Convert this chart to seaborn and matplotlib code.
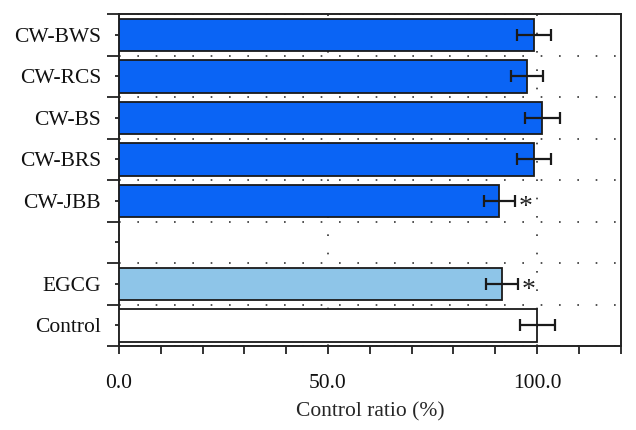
import numpy as np
import pandas as pd
import matplotlib
matplotlib.use("Agg")
import matplotlib.pyplot as plt
from matplotlib.ticker import MultipleLocator, FixedLocator
import seaborn as sns

# Data
groups = ["CW-BWS", "CW-RCS", "CW-BS", "CW-BRS", "CW-JBB", "EGCG", "Control"]
ratio = [99.3, 97.6, 101.2, 99.3, 90.9, 91.6, 100.0]
err = [4.0, 3.9, 4.2, 4.0, 3.7, 3.8, 4.2]
signif = [False, False, False, False, True, True, False]
order = ["CW-BWS", "CW-RCS", "CW-BS", "CW-BRS", "CW-JBB", " ", "EGCG", "Control"]
colors = {"CW-BWS": "#0A64F5", "CW-RCS": "#0A64F5", "CW-BS": "#0A64F5",
          "CW-BRS": "#0A64F5", "CW-JBB": "#0A64F5", "EGCG": "#8EC5E8",
          "Control": "#FFFFFF"}

df = pd.DataFrame({"group": groups, "ratio": ratio, "err": err})

sns.set_style("ticks")
plt.rcParams["font.family"] = ["Liberation Serif", "DejaVu Serif"]
plt.rcParams["font.size"] = 15.5
plt.rcParams["text.color"] = "#111111"
plt.rcParams["xtick.labelcolor"] = "#111111"
plt.rcParams["ytick.labelcolor"] = "#111111"

fig = plt.figure(figsize=(6.36, 4.30), dpi=100)
ax = fig.add_axes([0.187, 0.195, 0.789, 0.772])

sns.barplot(data=df, x="ratio", y="group", order=order, hue="group",
            palette=colors, saturation=1, width=0.78, edgecolor="#1a1a1a",
            linewidth=1.3, legend=False, ax=ax, zorder=3)

pos = [order.index(g) for g in groups]
ax.errorbar(df["ratio"], pos, xerr=df["err"], fmt="none", ecolor="#1a1a1a",
            elinewidth=1.6, capsize=4, capthick=1.6, zorder=4)
for g, v, e, s in zip(groups, ratio, err, signif):
    if s:
        ax.text(v + e + 1.0, order.index(g) + 0.15, "*", fontsize=20,
                ha="left", va="center", color="#222222")

ax.set_xlim(0, 120)
ax.set_ylim(len(order) - 0.5, -0.5)
ax.xaxis.set_major_locator(FixedLocator([0, 50, 100]))
ax.xaxis.set_minor_locator(MultipleLocator(10))
ax.set_xticklabels(["0.0", "50.0", "100.0"])
ax.yaxis.set_minor_locator(FixedLocator(np.arange(-0.5, len(order), 1.0)))
ax.tick_params(axis="x", which="both", direction="out", length=6, width=1.3,
               color="#222222", pad=14)
ax.tick_params(axis="y", which="major", direction="out", length=3, width=1.3,
               color="#222222", pad=10)
ax.tick_params(axis="y", which="minor", direction="out", length=9, width=1.3,
               color="#222222")

ax.grid(axis="x", which="major", linestyle=(0, (1, 10)), color="#333333",
        linewidth=1.2, zorder=0)
ax.grid(axis="y", which="minor", linestyle=(0, (1, 10)), color="#333333",
        linewidth=1.2, zorder=0)
ax.set_axisbelow(True)

for side in ["left", "bottom", "right", "top"]:
    ax.spines[side].set_visible(True)
    ax.spines[side].set_linewidth(1.4)
    ax.spines[side].set_color("#222222")

ax.set_ylabel("")
ax.set_xlabel("Control ratio (%)", labelpad=7)

fig.savefig("out.png", dpi=100)
